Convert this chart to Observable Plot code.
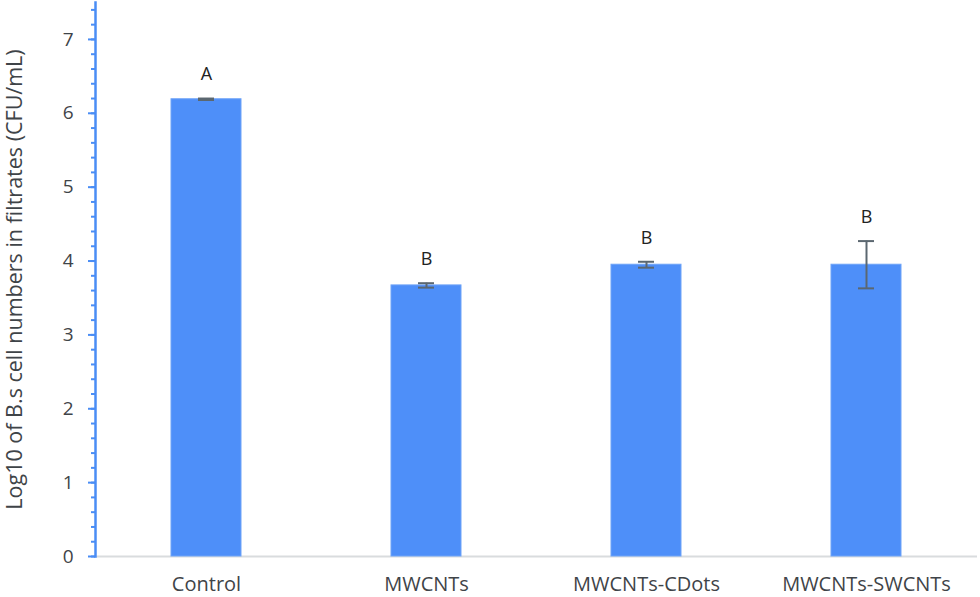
<!DOCTYPE html>
<html>
<head>
<meta charset="utf-8">
<script src="https://cdn.jsdelivr.net/npm/d3@7"></script>
<script src="https://cdn.jsdelivr.net/npm/@observablehq/plot@0.6"></script>
<style>
  html, body { margin: 0; padding: 0; background: #fff; }
  #chart svg { display: block; }
</style>
</head>
<body>
<div id="chart"></div>
<script>
const categories = ["Control", "MWCNTs", "MWCNTs-CDots", "MWCNTs-SWCNTs"];
const means = [6.19, 3.67, 3.95, 3.95];
const errors = [0.01, 0.03, 0.04, 0.32];
const letters = ["A", "B", "B", "B"];
const majorTicks = [0, 1, 2, 3, 4, 5, 6, 7];
const minorTicks = d3.range(0, 38).map(i => +(i * 0.2).toFixed(1));
const yTitle = "Log10 of B.s cell numbers in filtrates (CFU/mL)";

const data = categories.map((c, i) => ({cat: c, v: means[i], e: errors[i], letter: letters[i]}));

const blue = "#4e8ff9";
const axisBlue = "#4a8df5";
const errColor = "#5b6770";
const textColor = "#3f4448";

const plot = Plot.plot({
  width: 980,
  height: 597,
  marginLeft: 95,
  marginRight: 3,
  marginTop: 2,
  marginBottom: 41,
  style: {fontFamily: "'Open Sans', sans-serif", color: textColor, background: "#fff"},
  x: {domain: categories, paddingInner: 0.68, paddingOuter: 0.34},
  y: {domain: [0, 7.5]},
  marks: [
    Plot.ruleY([0], {stroke: "#d9dcde", strokeWidth: 2}),
    Plot.barY(data, {x: "cat", y: "v", fill: blue, stroke: "#6ea3f7", strokeWidth: 1}),
    Plot.ruleX(data, {x: "cat", y1: d => d.v - d.e, y2: d => d.v + d.e, stroke: errColor, strokeWidth: 2}),
    Plot.tickY(data, {x: "cat", y: d => d.v + d.e, stroke: errColor, strokeWidth: 2, insetLeft: 27, insetRight: 27}),
    Plot.tickY(data, {x: "cat", y: d => d.v - d.e, stroke: errColor, strokeWidth: 2, insetLeft: 27, insetRight: 27}),
    Plot.text(data, {x: "cat", y: d => d.v + d.e, text: "letter", dy: -24, fontSize: 18, fill: "#222"}),
    Plot.axisX({tickSize: 0, tickPadding: 20, fontSize: 20, label: null, color: textColor}),
    Plot.axisY({ticks: minorTicks, tickSize: 4, stroke: axisBlue, strokeWidth: 2, text: null, label: null}),
    Plot.axisY({ticks: majorTicks, tickSize: 7, tickPadding: 15, stroke: axisBlue, strokeWidth: 2, fontSize: 19,
                label: null, color: textColor}),
    Plot.axisY({ticks: [], tickSize: 0, fontSize: 21.5, label: yTitle, labelAnchor: "center",
                labelArrow: "none", labelOffset: 89, color: textColor}),
    Plot.frame({anchor: "left", stroke: axisBlue, strokeWidth: 2.5})
  ]
});
document.getElementById("chart").appendChild(plot);
</script>
</body>
</html>
